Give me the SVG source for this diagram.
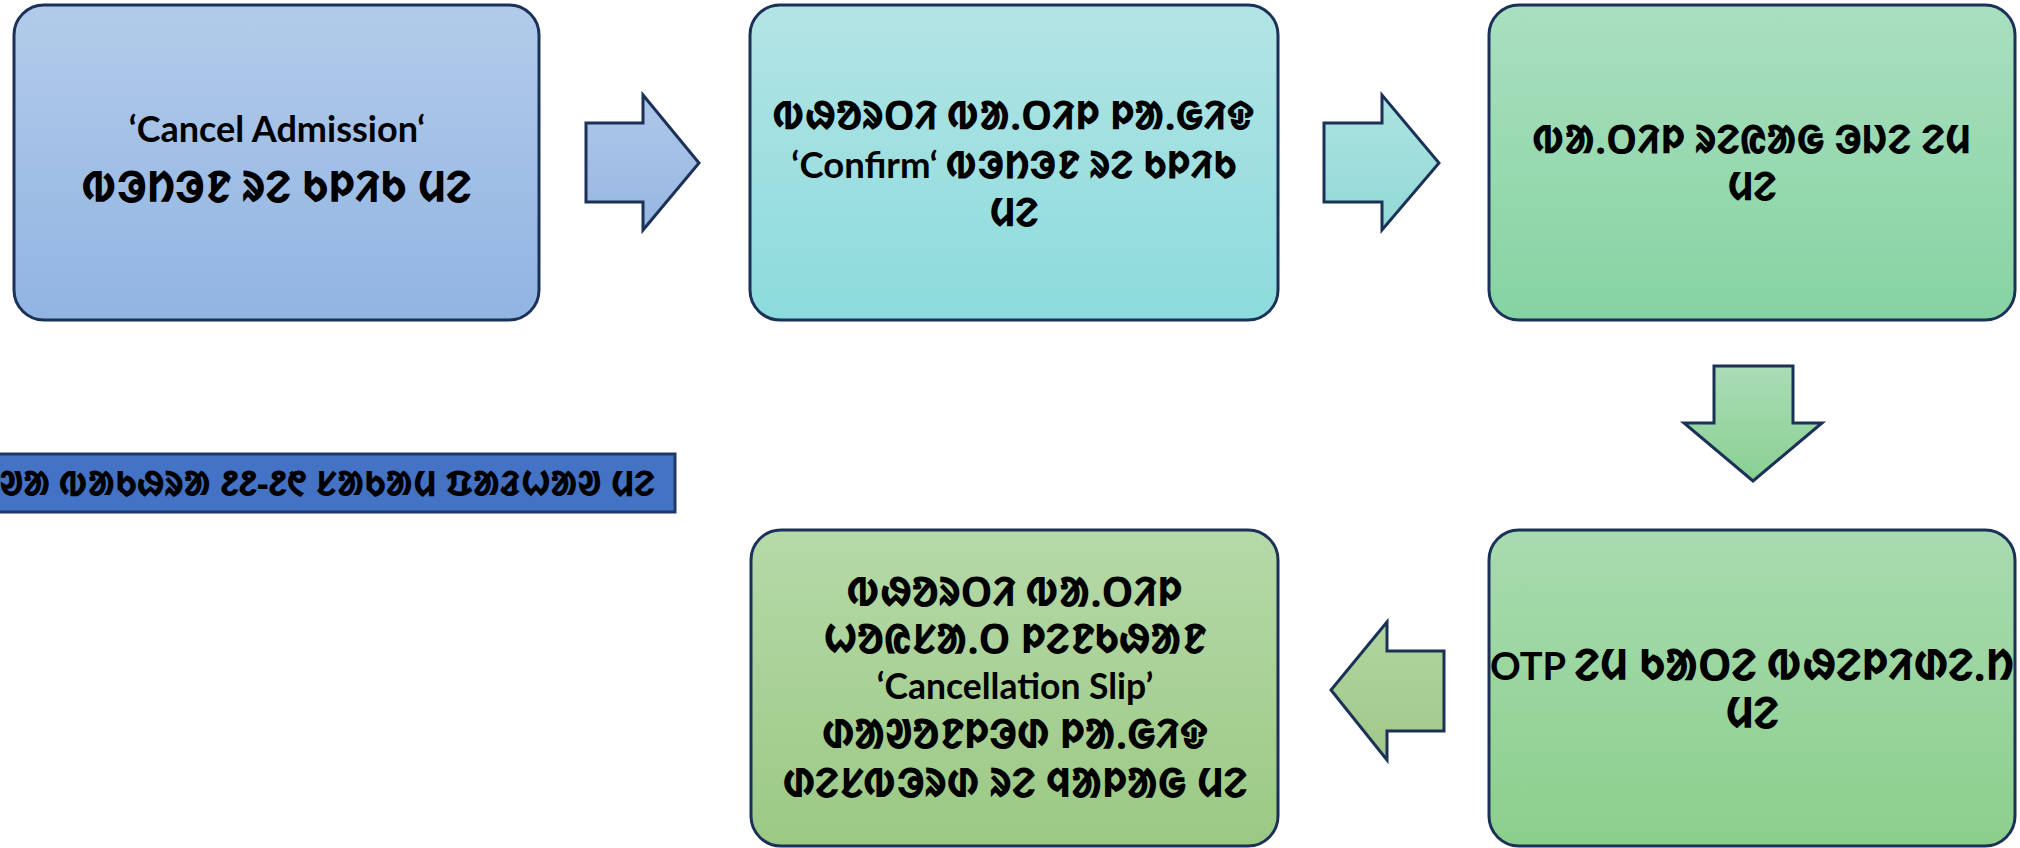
<svg xmlns="http://www.w3.org/2000/svg" width="2020" height="848" viewBox="0 0 2020 848">
<defs>
<linearGradient id="g1" x1="0" y1="0" x2="0" y2="1"><stop offset="0" stop-color="#b2cbea"/><stop offset="1" stop-color="#91b4e2"/></linearGradient>
<linearGradient id="g2" x1="0" y1="0" x2="0" y2="1"><stop offset="0" stop-color="#b3e4e5"/><stop offset="1" stop-color="#8cdbdc"/></linearGradient>
<linearGradient id="g3" x1="0" y1="0" x2="0" y2="1"><stop offset="0" stop-color="#a9dfbf"/><stop offset="1" stop-color="#86d3a2"/></linearGradient>
<linearGradient id="g4" x1="0" y1="0" x2="0" y2="1"><stop offset="0" stop-color="#a8dbb0"/><stop offset="1" stop-color="#8bcf8c"/></linearGradient>
<linearGradient id="g5" x1="0" y1="0" x2="0" y2="1"><stop offset="0" stop-color="#b6d9a8"/><stop offset="1" stop-color="#9bc984"/></linearGradient>
<linearGradient id="ga1" x1="0" y1="0" x2="0" y2="1"><stop offset="0" stop-color="#afc8ea"/><stop offset="1" stop-color="#96b6e1"/></linearGradient>
<linearGradient id="ga2" x1="0" y1="0" x2="0" y2="1"><stop offset="0" stop-color="#ace3e1"/><stop offset="1" stop-color="#92d9d6"/></linearGradient>
<linearGradient id="ga3" x1="0" y1="0" x2="0" y2="1"><stop offset="0" stop-color="#abdcb6"/><stop offset="1" stop-color="#89d092"/></linearGradient>
<linearGradient id="ga4" x1="0" y1="0" x2="0" y2="1"><stop offset="0" stop-color="#b0d69f"/><stop offset="1" stop-color="#a2c78a"/></linearGradient>
</defs>
<style>
.box{stroke:#1b3157;stroke-width:3}
.arr{stroke:#1b3157;stroke-width:3;stroke-linejoin:miter}
.t{font-family:"Lato","Noto Sans","DejaVu Sans",sans-serif;font-weight:bold;font-size:36px;fill:#000;text-anchor:middle}
.o{font-family:"Noto Sans Ol Chiki","Noto Sans","DejaVu Sans",sans-serif;font-weight:bold}
.ban{fill:#4472c4;stroke:#1f3864;stroke-width:3}
</style>
<g id="connectors">
<polygon class="arr" fill="url(#ga1)" points="586,123 643,123 643,95 699,163 643,230 643,202 586,202"/>
<polygon class="arr" fill="url(#ga2)" points="1324,123 1382,123 1382,95 1439,163 1382,230 1382,202 1324,202"/>
<polygon class="arr" fill="url(#ga3)" points="1714,366 1793,366 1793,423 1822,423 1753,481 1684,423 1714,423"/>
<polygon class="arr" fill="url(#ga4)" points="1444,651 1387,651 1387,622 1331,690 1387,760 1387,731 1444,731"/>
</g>
<g id="node1">
<rect class="box" x="14" y="5" width="525" height="315" rx="30" fill="url(#g1)"/>
<text class="t" x="277" y="142">‘Cancel Admission‘</text>
<text class="t o" x="277" y="202" style="font-size:43px">ᱵᱳᱴᱳᱱ ᱨᱮ ᱠᱞᱤᱠ ᱢᱮ</text>
</g>
<g id="node2">
<rect class="box" x="750" y="5" width="528" height="315" rx="30" fill="url(#g2)"/>
<text class="t o" x="1014" y="129" style="font-size:39.5px">ᱵᱷᱚᱨᱛᱤ ᱵᱟᱹᱛᱤᱞ ᱞᱟᱹᱜᱤᱫ</text>
<text class="t" x="1014" y="178"><tspan style="font-size:36.5px">‘Confirm‘ </tspan><tspan class="o" style="font-size:38.5px">ᱵᱳᱴᱳᱱ ᱨᱮ ᱠᱞᱤᱠ</tspan></text>
<text class="t o" x="1014" y="226" style="font-size:39.5px">ᱢᱮ</text>
</g>
<g id="node3">
<rect class="box" x="1489" y="5" width="526" height="315" rx="30" fill="url(#g3)"/>
<text class="t o" x="1752" y="153" style="font-size:39.5px">ᱵᱟᱹᱛᱤᱞ ᱨᱮᱭᱟᱜ ᱳᱡᱮ ᱮᱢ</text>
<text class="t o" x="1752" y="200" style="font-size:39.5px">ᱢᱮ</text>
</g>
<g id="node4">
<rect class="box" x="1489" y="530" width="526" height="316" rx="30" fill="url(#g4)"/>
<text class="t" x="1752" y="680"><tspan style="font-size:38px">OTP </tspan><tspan class="o" style="font-size:43px">ᱮᱢ ᱠᱟᱛᱮ ᱵᱷᱮᱞᱤᱰᱮᱹᱴ</tspan></text>
<text class="t o" x="1752" y="728" style="font-size:43px">ᱢᱮ</text>
</g>
<g id="node5">
<rect class="box" x="751" y="530" width="527" height="316" rx="30" fill="url(#g5)"/>
<text class="t o" x="1015" y="606" style="font-size:40.5px">ᱵᱷᱚᱨᱛᱤ ᱵᱟᱹᱛᱤᱞ</text>
<text class="t o" x="1015" y="653" style="font-size:40.5px">ᱦᱚᱭᱥᱟᱹᱛ ᱞᱮᱱᱠᱷᱟᱱ</text>
<text class="t" x="1015" y="699" style="font-size:35.5px">‘Cancellation Slip’</text>
<text class="t o" x="1015" y="748" style="font-size:40.5px">ᱰᱟᱣᱚᱱᱞᱳᱰ ᱞᱟᱹᱜᱤᱫ</text>
<text class="t o" x="1015" y="797" style="font-size:40.5px">ᱰᱮᱥᱵᱳᱨᱰ ᱨᱮ ᱧᱟᱞᱟᱜ ᱢᱮ</text>
</g>
<g id="note">
<rect class="ban" x="-10" y="454" width="685" height="58"/>
<text class="t o" x="655" y="496" style="text-anchor:end;font-size:35.5px">ᱳᱣᱟ ᱵᱟᱠᱷᱨᱟ ᱒᱒-᱒᱖ ᱥᱟᱠᱟᱢ ᱯᱟᱲᱦᱟᱣ ᱢᱮ</text>
</g>
</svg>
